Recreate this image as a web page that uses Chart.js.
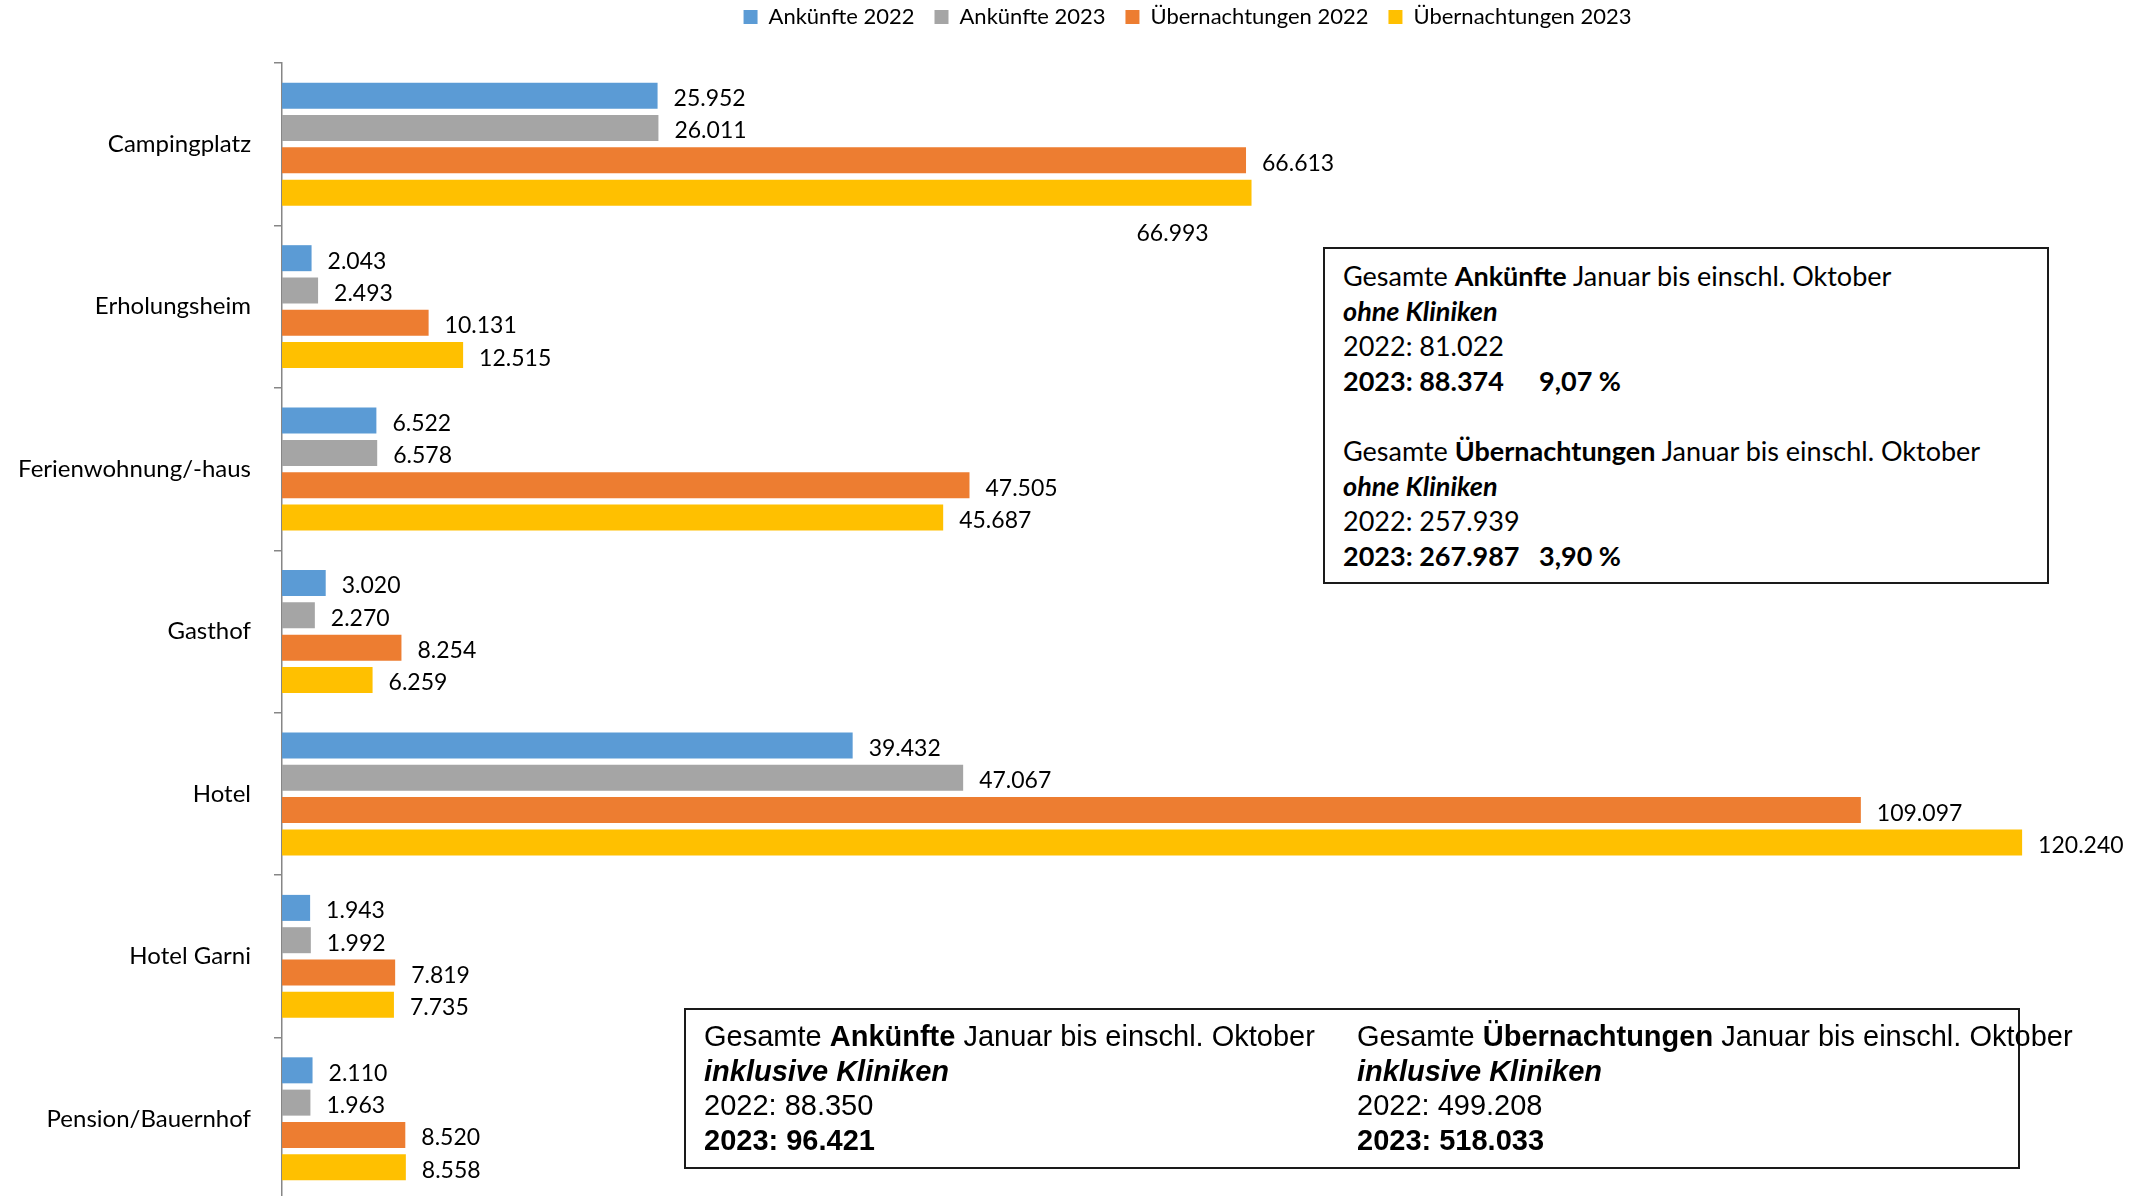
<!DOCTYPE html>
<html lang="de">
<head>
<meta charset="utf-8">
<title>Ankünfte und Übernachtungen 2022/2023</title>
<script src="https://cdn.jsdelivr.net/npm/chart.js@4.4.1/dist/chart.umd.min.js"></script>
<style>
  html, body { margin: 0; padding: 0; background: #fff; overflow: hidden; }
  #wrap { position: relative; width: 2136px; height: 1196px; overflow: hidden; }
  #chart { position: absolute; left: 0; top: 0; }
  .box { position: absolute; box-sizing: border-box; border: 2px solid #1a1a1a; background: #fff; color: #000; white-space: nowrap; }
  #boxTop { left: 1323px; top: 247px; width: 726px; height: 337px; padding: 9px 0 0 18px; font: 27px/35px Lato, sans-serif; }
  #boxBottom { left: 684px; top: 1008px; width: 1336px; height: 161px; font: 29px/34.7px "Liberation Sans", Arial, sans-serif; }
  #boxBottom .col { position: absolute; top: 9px; }
  .tab { display: inline-block; width: 196px; }
</style>
</head>
<body>
<div id="wrap">
  <canvas id="chart" width="2136" height="1204"></canvas>

  <div class="box" id="boxTop">
    Gesamte <b>Ankünfte</b> Januar bis einschl. Oktober<br>
    <b><i>ohne Kliniken</i></b><br>
    2022: 81.022<br>
    <b><span class="tab">2023: 88.374</span>9,07 %</b><br>
    <br>
    Gesamte <b>Übernachtungen</b> Januar bis einschl. Oktober<br>
    <b><i>ohne Kliniken</i></b><br>
    2022: 257.939<br>
    <b><span class="tab">2023: 267.987</span>3,90 %</b>
  </div>

  <div class="box" id="boxBottom">
    <div class="col" style="left:18px">
      Gesamte <b>Ankünfte</b> Januar bis einschl. Oktober<br>
      <b><i>inklusive Kliniken</i></b><br>
      2022: 88.350<br>
      <b>2023: 96.421</b>
    </div>
    <div class="col" style="left:671px">
      Gesamte <b>Übernachtungen</b> Januar bis einschl. Oktober<br>
      <b><i>inklusive Kliniken</i></b><br>
      2022: 499.208<br>
      <b>2023: 518.033</b>
    </div>
  </div>
</div>

<script>
// ========= DATA ========= //
const categories = [
  'Campingplatz', 'Erholungsheim', 'Ferienwohnung/-haus', 'Gasthof',
  'Hotel', 'Hotel Garni', 'Pension/Bauernhof'
];
const seriesNames = ['Ankünfte 2022', 'Ankünfte 2023', 'Übernachtungen 2022', 'Übernachtungen 2023'];

const ankuenfte2022      = [25952, 2043, 6522, 3020, 39432, 1943, 2110];
const ankuenfte2023      = [26011, 2493, 6578, 2270, 47067, 1992, 1963];
const uebernachtung2022  = [66613, 10131, 47505, 8254, 109097, 7819, 8520];
const uebernachtung2023  = [66993, 12515, 45687, 6259, 120240, 7735, 8558];

const seriesColors = ['#5B9BD5', '#A5A5A5', '#ED7D31', '#FFC000'];

// one label sits below its bar instead of after it ("dataset:index" -> [dx, dy])
const labelNudge = { '3:0': [-131, 38] };

// ========= HELPERS ========= //
function formatDe(v) {
  return String(v).replace(/\B(?=(\d{3})+(?!\d))/g, '.');
}

const valueLabels = {
  id: 'valueLabels',
  afterDatasetsDraw(chart) {
    const ctx = chart.ctx;
    ctx.save();
    ctx.font = '23px Lato, sans-serif';
    ctx.fillStyle = '#000';
    ctx.textAlign = 'left';
    ctx.textBaseline = 'middle';
    chart.data.datasets.forEach((ds, di) => {
      chart.getDatasetMeta(di).data.forEach((bar, i) => {
        const n = labelNudge[di + ':' + i] || [0, 0];
        ctx.fillText(formatDe(ds.data[i]), bar.x + 16 + n[0], bar.y + 3 + n[1]);
      });
    });
    ctx.restore();
  }
};

// legend sits high, with a gap below it before the plot starts
const legendGap = {
  id: 'legendGap',
  afterInit(chart) {
    const lg = chart.legend;
    if (!lg) return;
    const fit = lg.fit;
    const draw = lg.draw;
    lg.fit = function () {
      fit.call(this);
      this.height = 83;
    };
    lg.draw = function () {
      this.ctx.save();
      this.ctx.translate(1, 6);
      draw.call(this);
      this.ctx.restore();
    };
  }
};

// ========= CHART ========= //
const seriesValues = [ankuenfte2022, ankuenfte2023, uebernachtung2022, uebernachtung2023];

new Chart(document.getElementById('chart'), {
  type: 'bar',
  data: {
    labels: categories,
    datasets: seriesNames.map((name, k) => ({
      label: name,
      data: seriesValues[k],
      backgroundColor: seriesColors[k],
      borderWidth: 0,
      categoryPercentage: 0.7956,
      barPercentage: 0.805
    }))
  },
  options: {
    indexAxis: 'y',
    responsive: false,
    devicePixelRatio: 1,
    animation: false,
    layout: { padding: { top: -20, right: 45, bottom: 4, left: 0 } },
    plugins: {
      tooltip: { enabled: false },
      legend: {
        position: 'top',
        fullSize: false,
        labels: {
          boxWidth: 14,
          boxHeight: 14,
          padding: 20,
          color: '#000',
          font: { family: 'Lato, sans-serif', size: 22 }
        }
      }
    },
    scales: {
      x: { display: false, min: 0, max: 125000 },
      y: {
        afterFit(scale) {
          scale.width = 282;
          scale.paddingTop = 0;
          scale.paddingBottom = 0;
        },
        grid: { offset: true, drawOnChartArea: false, tickLength: 8, color: '#868686', lineWidth: 1.5 },
        border: { color: '#868686', width: 1.5 },
        ticks: { color: '#000', padding: 23, font: { family: 'Lato, sans-serif', size: 24 } }
      }
    }
  },
  plugins: [valueLabels, legendGap]
});
</script>
</body>
</html>
